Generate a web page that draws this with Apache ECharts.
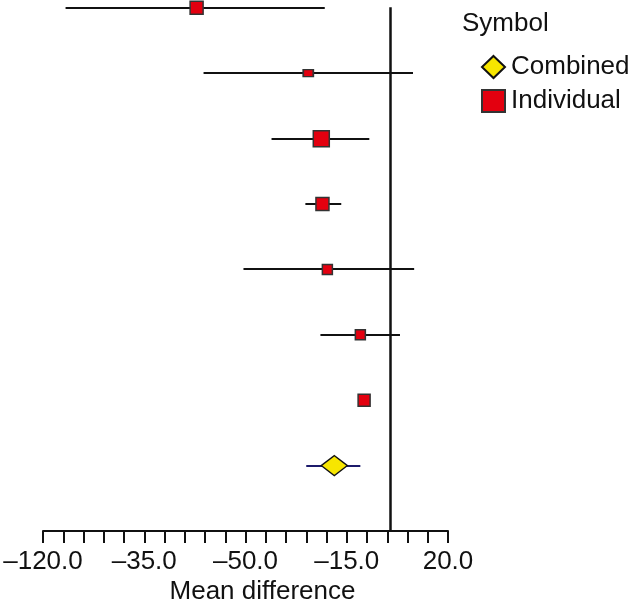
<!DOCTYPE html>
<html>
<head>
<meta charset="utf-8">
<script src="https://cdn.jsdelivr.net/npm/echarts@6/dist/echarts.min.js"></script>
<style>
  html, body { margin: 0; padding: 0; background: #fff; }
  #chart { width: 630px; height: 600px; }
</style>
</head>
<body>
<div id="chart"></div>
<script>
// study rows, top to bottom
const means = [-66.9, -28.3, -23.8, -23.4, -21.7, -10.3, -9.0];
const lower = [-112.2, -64.5, -41.0, -29.3, -50.7, -24.1, -9.0];
const upper = [-22.6, 7.9, -7.2, -16.9, 8.3, 3.4, -9.0];
const combinedMean = -19.3;
const combinedLower = -29.0;
const combinedUpper = -10.3;
const tickLabels = ['–120.0', '–35.0', '–50.0', '–15.0', '20.0'];

const markerSizes = [[13, 13], [10, 7], [16, 16], [13, 13], [10, 10], [10, 10], [12, 12]];

const font = 'Liberation Sans, Arial, sans-serif';
const nRows = means.length;
const rowY = i => nRows + 1 - i; // top row at 8, combined at 1

const barData = means.map((m, i) => [lower[i], upper[i], rowY(i)]);
const combinedBar = [[combinedLower, combinedUpper, 1]];

function errorBar(color) {
  return function (params, api) {
    const a = api.coord([api.value(0), api.value(2)]);
    const b = api.coord([api.value(1), api.value(2)]);
    const y = Math.round(a[1]);
    return {
      type: 'line',
      shape: { x1: a[0], y1: y, x2: b[0], y2: y },
      style: { stroke: color, lineWidth: 2 }
    };
  };
}

const chart = echarts.init(document.getElementById('chart'));
chart.setOption({
  animation: false,
  backgroundColor: '#fff',
  title: {
    text: 'Symbol',
    left: 457,
    top: 6,
    textStyle: { fontFamily: font, fontSize: 26, fontWeight: 'normal', color: '#111' }
  },
  legend: {
    orient: 'vertical',
    left: 476,
    top: 49,
    itemWidth: 23,
    itemHeight: 22,
    itemGap: 8,
    data: [
      { name: 'Combined', icon: 'diamond' },
      { name: 'Individual', icon: 'rect' }
    ],
    textStyle: { fontFamily: font, fontSize: 26, lineHeight: 22, color: '#111', padding: [0, 0, 0, 1] }
  },
  grid: { left: 43, right: 182, top: 0, bottom: 69, outerBoundsMode: 'none' },
  xAxis: {
    type: 'value',
    min: -120,
    max: 20,
    interval: 35,
    name: 'Mean difference',
    nameLocation: 'middle',
    nameGap: 48,
    nameMoveOverlap: false,
    nameTextStyle: { fontFamily: font, fontSize: 26, color: '#111', padding: [0, 0, 0, 34] },
    axisLine: { show: true, onZero: false, lineStyle: { color: '#111', width: 2 } },
    axisTick: { show: true, length: 12, lineStyle: { color: '#111', width: 2 } },
    minorTick: { show: true, splitNumber: 5, length: 12, lineStyle: { color: '#111', width: 2 } },
    splitLine: { show: false },
    axisLabel: {
      fontFamily: font,
      fontSize: 26,
      color: '#111',
      margin: 18,
      formatter: v => tickLabels[Math.round((v + 120) / 35)]
    }
  },
  yAxis: {
    type: 'value',
    min: 0,
    max: 8.12,
    show: false
  },
  series: [
    {
      name: 'bars',
      type: 'custom',
      renderItem: errorBar('#111'),
      data: barData,
      z: 2,
      markLine: {
        silent: true,
        symbol: 'none',
        label: { show: false },
        lineStyle: { color: '#111', width: 2.5, type: 'solid' },
        data: [[{ coord: [0, 8.01] }, { coord: [0, 0] }]]
      }
    },
    {
      name: 'combinedBar',
      type: 'custom',
      renderItem: errorBar('#1c1a6b'),
      data: combinedBar,
      z: 2
    },
    {
      name: 'Individual',
      type: 'scatter',
      symbol: 'rect',
      z: 5,
      itemStyle: { color: '#e3000f', borderColor: '#333', borderWidth: 1.5, opacity: 1 },
      data: means.map((m, i) => ({ value: [m, rowY(i)], symbolSize: markerSizes[i] }))
    },
    {
      name: 'Combined',
      type: 'scatter',
      symbol: 'diamond',
      symbolSize: [26, 20],
      z: 5,
      itemStyle: { color: '#f7e600', borderColor: '#111', borderWidth: 1.5, opacity: 1 },
      data: [[combinedMean, 1]]
    }
  ]
});
</script>
</body>
</html>
